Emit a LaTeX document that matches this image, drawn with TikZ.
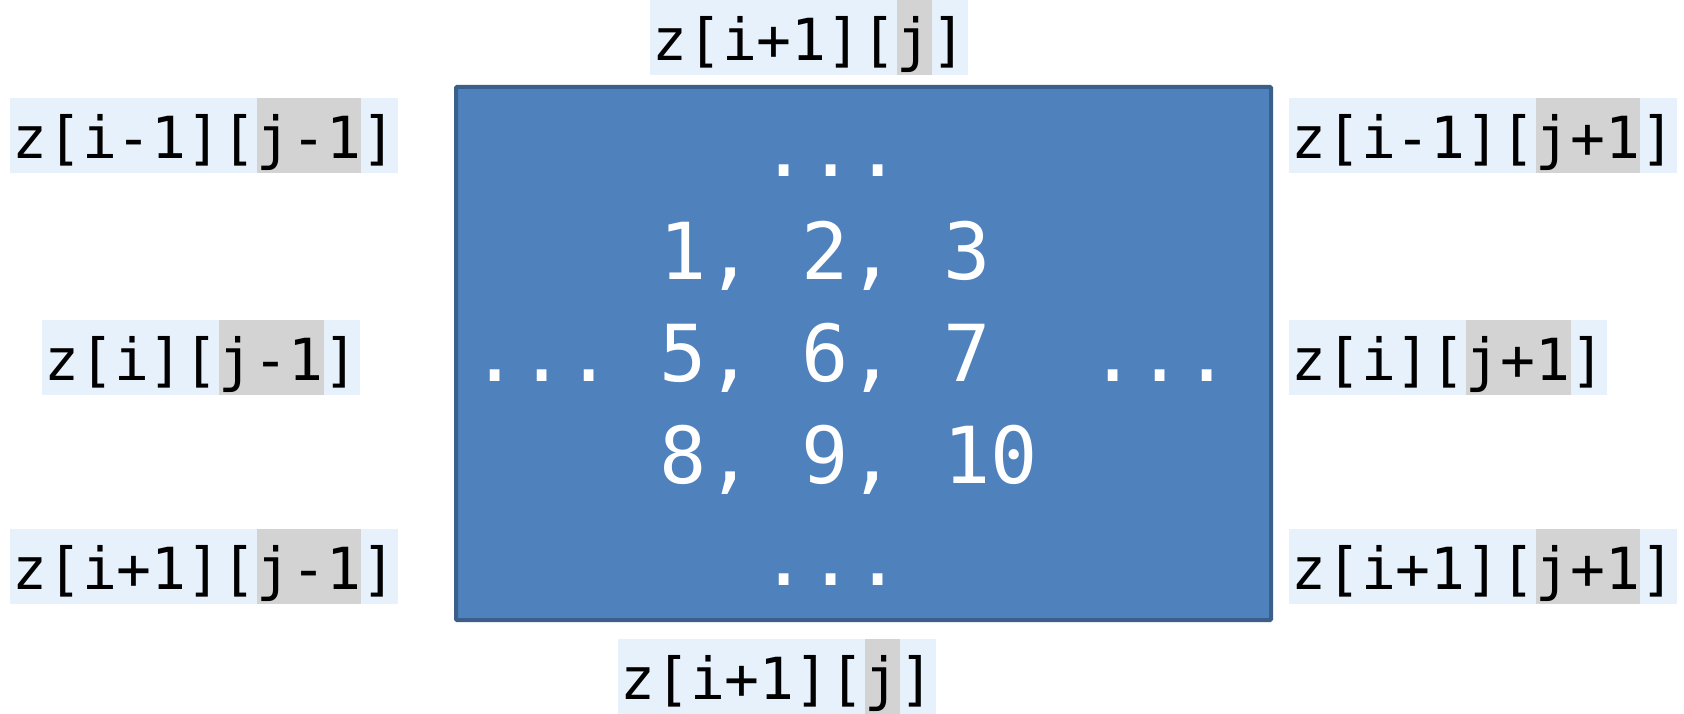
\documentclass[tikz,border=0pt]{standalone}
\usepackage{fontspec}
\newfontfamily\codefont{DejaVu Sans Mono}
\definecolor{boxblue}{HTML}{4F81BD}
\definecolor{boxedge}{HTML}{3A5F8B}
\definecolor{lblbg}{HTML}{E7F1FC}
\definecolor{hlgray}{HTML}{D3D3D3}
\newcommand\lblstrut{\rule[-15pt]{0pt}{75pt}}
\newcommand\hlt[1]{{\setlength{\fboxsep}{0pt}\colorbox{hlgray}{\lblstrut#1}}}
\begin{document}
\begin{tikzpicture}[x=1pt,y=-1pt,
  lbl/.style={fill=lblbg, inner xsep=2pt, inner ysep=0pt, anchor=north west,
    font=\codefont\fontsize{58}{70}\selectfont, text=black},
  cell/.style={anchor=base west, inner sep=0pt, text=white,
    font=\codefont\fontsize{78.6}{102}\selectfont},
  gridbox/.style={draw=boxedge, line width=4pt, fill=boxblue,
    minimum width=815pt, minimum height=533pt, inner sep=0pt, rounded corners=1pt}]
\useasboundingbox (0,0) rectangle (1684,714);
\node[gridbox] (grid) at (863.5,353.5) {};
% labels
\node[lbl] (top) at (650,0) {\lblstrut z[i+1][\hlt{j}]};
\node[lbl] (lt) at (10,98) {\lblstrut z[i-1][\hlt{j-1}]};
\node[lbl] (lm) at (42,320) {\lblstrut z[i][\hlt{j-1}]};
\node[lbl] (lb) at (10,529) {\lblstrut z[i+1][\hlt{j-1}]};
\node[lbl] (rt) at (1289,98) {\lblstrut z[i-1][\hlt{j+1}]};
\node[lbl] (rm) at (1289,320) {\lblstrut z[i][\hlt{j+1}]};
\node[lbl] (rb) at (1289,529) {\lblstrut z[i+1][\hlt{j+1}]};
\node[lbl] (bot) at (618,639) {\lblstrut z[i+1][\hlt{j}]};
% box contents
\node[cell] (dotsTop) at (760,177) {...};
\node[cell] (row1) at (659,279) {1, 2, 3};
\node[cell] (dotsL) at (471,381) {...};
\node[cell] (row2) at (659,381) {5, 6, 7};
\node[cell] (dotsR) at (1089,381) {...};
\node[cell] (row3) at (659,483) {8, 9, 10};
\node[cell] (dotsBot) at (760,585) {...};
\end{tikzpicture}
\end{document}
